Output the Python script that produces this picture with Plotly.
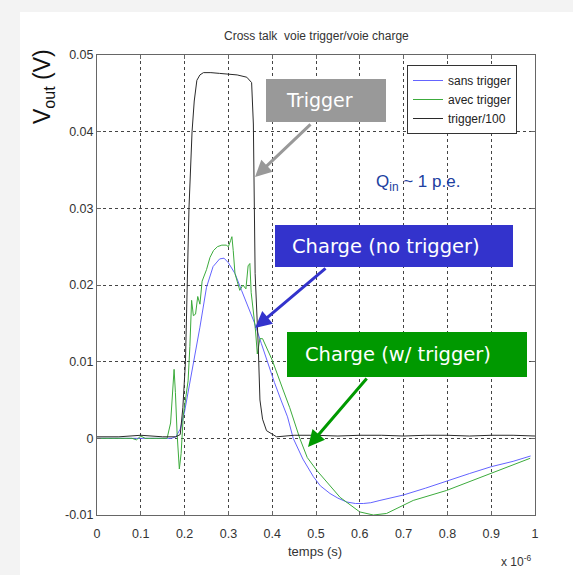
import plotly.graph_objects as go

# ---- data (time in units of 1e-6 s, voltage in V) ----
trig_t = [0, 0.05, 0.10, 0.15, 0.18, 0.19, 0.196, 0.202, 0.206, 0.210, 0.217, 0.222, 0.228,
          0.235, 0.243, 0.26, 0.28, 0.30, 0.32, 0.342, 0.353, 0.357, 0.361, 0.368, 0.372,
          0.378, 0.387, 0.41, 0.45, 0.5, 0.55, 0.6, 0.65, 0.7, 0.75, 0.8, 0.85, 0.9, 0.95, 1.0]
trig_v = [0.0002, 0.0002, 0.0004, 0.0002, 0.0002, 0.0005, 0.004, 0.010, 0.020, 0.030, 0.040, 0.044, 0.0467,
          0.0474, 0.0477, 0.0477, 0.0476, 0.0475, 0.0474, 0.0471, 0.0464, 0.041, 0.0215, 0.0123, 0.005,
          0.0025, 0.001, 0.0002, 0.0004, 0.0004, 0.0003, 0.0004, 0.0004, 0.0003, 0.0004, 0.0004, 0.0003, 0.0004, 0.0004, 0.0003]

sans_t = [0, 0.1, 0.17, 0.18, 0.19, 0.2, 0.21, 0.22, 0.235, 0.25, 0.265, 0.28, 0.29, 0.3, 0.315,
          0.33, 0.345, 0.36, 0.375, 0.39, 0.405, 0.42, 0.435, 0.448, 0.47, 0.494, 0.51, 0.532, 0.55,
          0.57, 0.59, 0.608, 0.625, 0.646, 0.67, 0.699, 0.75, 0.8, 0.85, 0.9, 0.95, 0.99]
sans_v = [0, 0, 0, 0.0002, 0.0012, 0.0035, 0.0065, 0.0098, 0.0145, 0.0197, 0.0224, 0.0234, 0.0235, 0.0229, 0.0215,
          0.0193, 0.0171, 0.015, 0.0124, 0.0098, 0.0073, 0.005, 0.0028, 0.0, -0.0027, -0.005, -0.0062, -0.0072, -0.0078,
          -0.0083, -0.0085, -0.0085, -0.0084, -0.0081, -0.0078, -0.0074, -0.0065, -0.0055, -0.0046, -0.0037, -0.003, -0.0023]

avec_t = [0, 0.08, 0.09, 0.1, 0.11, 0.16, 0.168, 0.173, 0.176, 0.179, 0.183, 0.188, 0.192, 0.197,
          0.203, 0.208, 0.212, 0.216, 0.22, 0.225, 0.23, 0.235, 0.24, 0.25, 0.258, 0.266, 0.275, 0.285,
          0.295, 0.3, 0.305, 0.308, 0.311, 0.315, 0.32, 0.326, 0.333, 0.34, 0.345, 0.349, 0.352, 0.357,
          0.362, 0.366, 0.372, 0.378, 0.388, 0.4, 0.425, 0.44, 0.463, 0.48, 0.502, 0.555, 0.6, 0.631,
          0.661, 0.722, 0.798, 0.897, 0.989]
avec_v = [0, 0, -0.0002, 0.0003, 0, 0, 0.002, 0.0075, 0.009, 0.006, 0.0005, -0.004, -0.002, 0.003,
          0.0055, 0.0075, 0.012, 0.018, 0.016, 0.0162, 0.0185, 0.0175, 0.0205, 0.022, 0.0236, 0.0245, 0.025, 0.0252,
          0.0252, 0.025, 0.0258, 0.0263, 0.0245, 0.0215, 0.0205, 0.0193, 0.020, 0.0195, 0.0225, 0.0228, 0.019, 0.0165,
          0.014, 0.011, 0.013, 0.013, 0.0118, 0.0102, 0.0063, 0.004, 0.0, -0.0025, -0.0042, -0.0077, -0.0096, -0.010,
          -0.0098, -0.0081, -0.0068, -0.0046, -0.0026]

x_ticks = [0, 0.1, 0.2, 0.3, 0.4, 0.5, 0.6, 0.7, 0.8, 0.9, 1]
x_labels = ["0", "0.1", "0.2", "0.3", "0.4", "0.5", "0.6", "0.7", "0.8", "0.9", "1"]
y_ticks = [-0.01, 0, 0.01, 0.02, 0.03, 0.04, 0.05]
y_labels = ["-0.01", "0", "0.01", "0.02", "0.03", "0.04", "0.05"]

# ---- page geometry ----
W, H = 573, 575
L, R, T, B = 97, 38, 55, 60
PW, PH = W - L - R, H - T - B


def px(x):
    return (x - L) / PW


def py(y):
    return (H - B - y) / PH


FONT = "Liberation Sans, Arial, sans-serif"
BOXFONT = "DejaVu Sans, Verdana, sans-serif"

fig = go.Figure()
fig.add_trace(go.Scatter(x=sans_t, y=sans_v, mode="lines", name="sans trigger",
                         line=dict(color="#6464ff", width=1)))
fig.add_trace(go.Scatter(x=avec_t, y=avec_v, mode="lines", name="avec trigger",
                         line=dict(color="#3cab3c", width=1)))
fig.add_trace(go.Scatter(x=trig_t, y=trig_v, mode="lines", name="trigger/100",
                         line=dict(color="#2a2a2a", width=1)))

axis_common = dict(
    showline=True, linecolor="#666", linewidth=1, mirror="ticks",
    ticks="inside", ticklen=4, tickcolor="#666",
    showgrid=True, gridcolor="#444", griddash="dot", gridwidth=1,
    zeroline=False, tickfont=dict(family=FONT, size=12.5, color="#333"),
)
fig.update_xaxes(range=[0, 1], tickvals=x_ticks, ticktext=x_labels,
                 ticklabelstandoff=7, **axis_common)
fig.update_yaxes(range=[-0.01, 0.05], tickvals=y_ticks, ticktext=y_labels, **axis_common)

shapes = [
    # faint frame around the page
    dict(type="rect", xref="paper", yref="paper", x0=px(0), x1=px(W), y0=py(0), y1=py(12),
         fillcolor="#f3f3f3", line=dict(width=0), layer="below"),
    dict(type="rect", xref="paper", yref="paper", x0=px(0), x1=px(20), y0=py(0), y1=py(H),
         fillcolor="#f3f3f3", line=dict(width=0), layer="below"),
    # callout boxes
    dict(type="rect", xref="paper", yref="paper", x0=px(266), x1=px(386), y0=py(122), y1=py(79),
         fillcolor="#999999", line=dict(width=0)),
    dict(type="rect", xref="paper", yref="paper", x0=px(275), x1=px(513), y0=py(267), y1=py(225),
         fillcolor="#3333cc", line=dict(width=0)),
    dict(type="rect", xref="paper", yref="paper", x0=px(287), x1=px(527), y0=py(377), y1=py(332),
         fillcolor="#009900", line=dict(width=0)),
]

annotations = [
    dict(x=px(316), y=py(36), text="Cross talk \u00a0voie trigger/voie charge",
         font=dict(family=FONT, size=12, color="#333")),
    dict(x=px(315), y=py(551), text="temps (s)",
         font=dict(family=FONT, size=13, color="#333")),
    dict(x=px(516), y=py(561), text="x 10<sup>-6</sup>",
         font=dict(family=FONT, size=12, color="#333")),
    dict(x=px(43), y=py(87), text="V<sub>out</sub> (V)", textangle=-90,
         font=dict(family=FONT, size=23, color="#111")),
    dict(x=px(418), y=py(183), text="Q<sub>in</sub> ~ 1 p.e.",
         font=dict(family=FONT, size=17, color="#2040a0")),
    # box texts
    dict(x=px(319), y=py(100), text="Trigger",
         font=dict(family=BOXFONT, size=19, color="white")),
    dict(x=px(386), y=py(246), text="Charge (no trigger)",
         font=dict(family=BOXFONT, size=19.5, color="white")),
    dict(x=px(398), y=py(354), text="Charge (w/ trigger)",
         font=dict(family=BOXFONT, size=19.5, color="white")),
]
for a in annotations:
    a.update(xref="paper", yref="paper", xanchor="center", yanchor="middle", showarrow=False)

arrows = [
    dict(x=px(255), y=py(177), ax=312 - 255, ay=123 - 177, arrowcolor="#999999"),
    dict(x=px(255), y=py(328), ax=327 - 255, ay=267 - 328, arrowcolor="#3333cc"),
    dict(x=px(308), y=py(447), ax=368 - 308, ay=377 - 447, arrowcolor="#009900"),
]
for a in arrows:
    a.update(xref="paper", yref="paper", text="", showarrow=True,
             arrowhead=2, arrowsize=1.1, arrowwidth=3)

fig.update_layout(
    width=W, height=H,
    margin=dict(l=L, r=R, t=T, b=B),
    paper_bgcolor="white", plot_bgcolor="white",
    showlegend=True,
    legend=dict(x=px(407), y=py(65), xanchor="left", yanchor="top",
                bgcolor="white", bordercolor="#333", borderwidth=1,
                font=dict(family=FONT, size=12, color="#222"),
                itemwidth=30, tracegroupgap=0),
    shapes=shapes,
    annotations=annotations + arrows,
)

fig.write_html("out.html")
